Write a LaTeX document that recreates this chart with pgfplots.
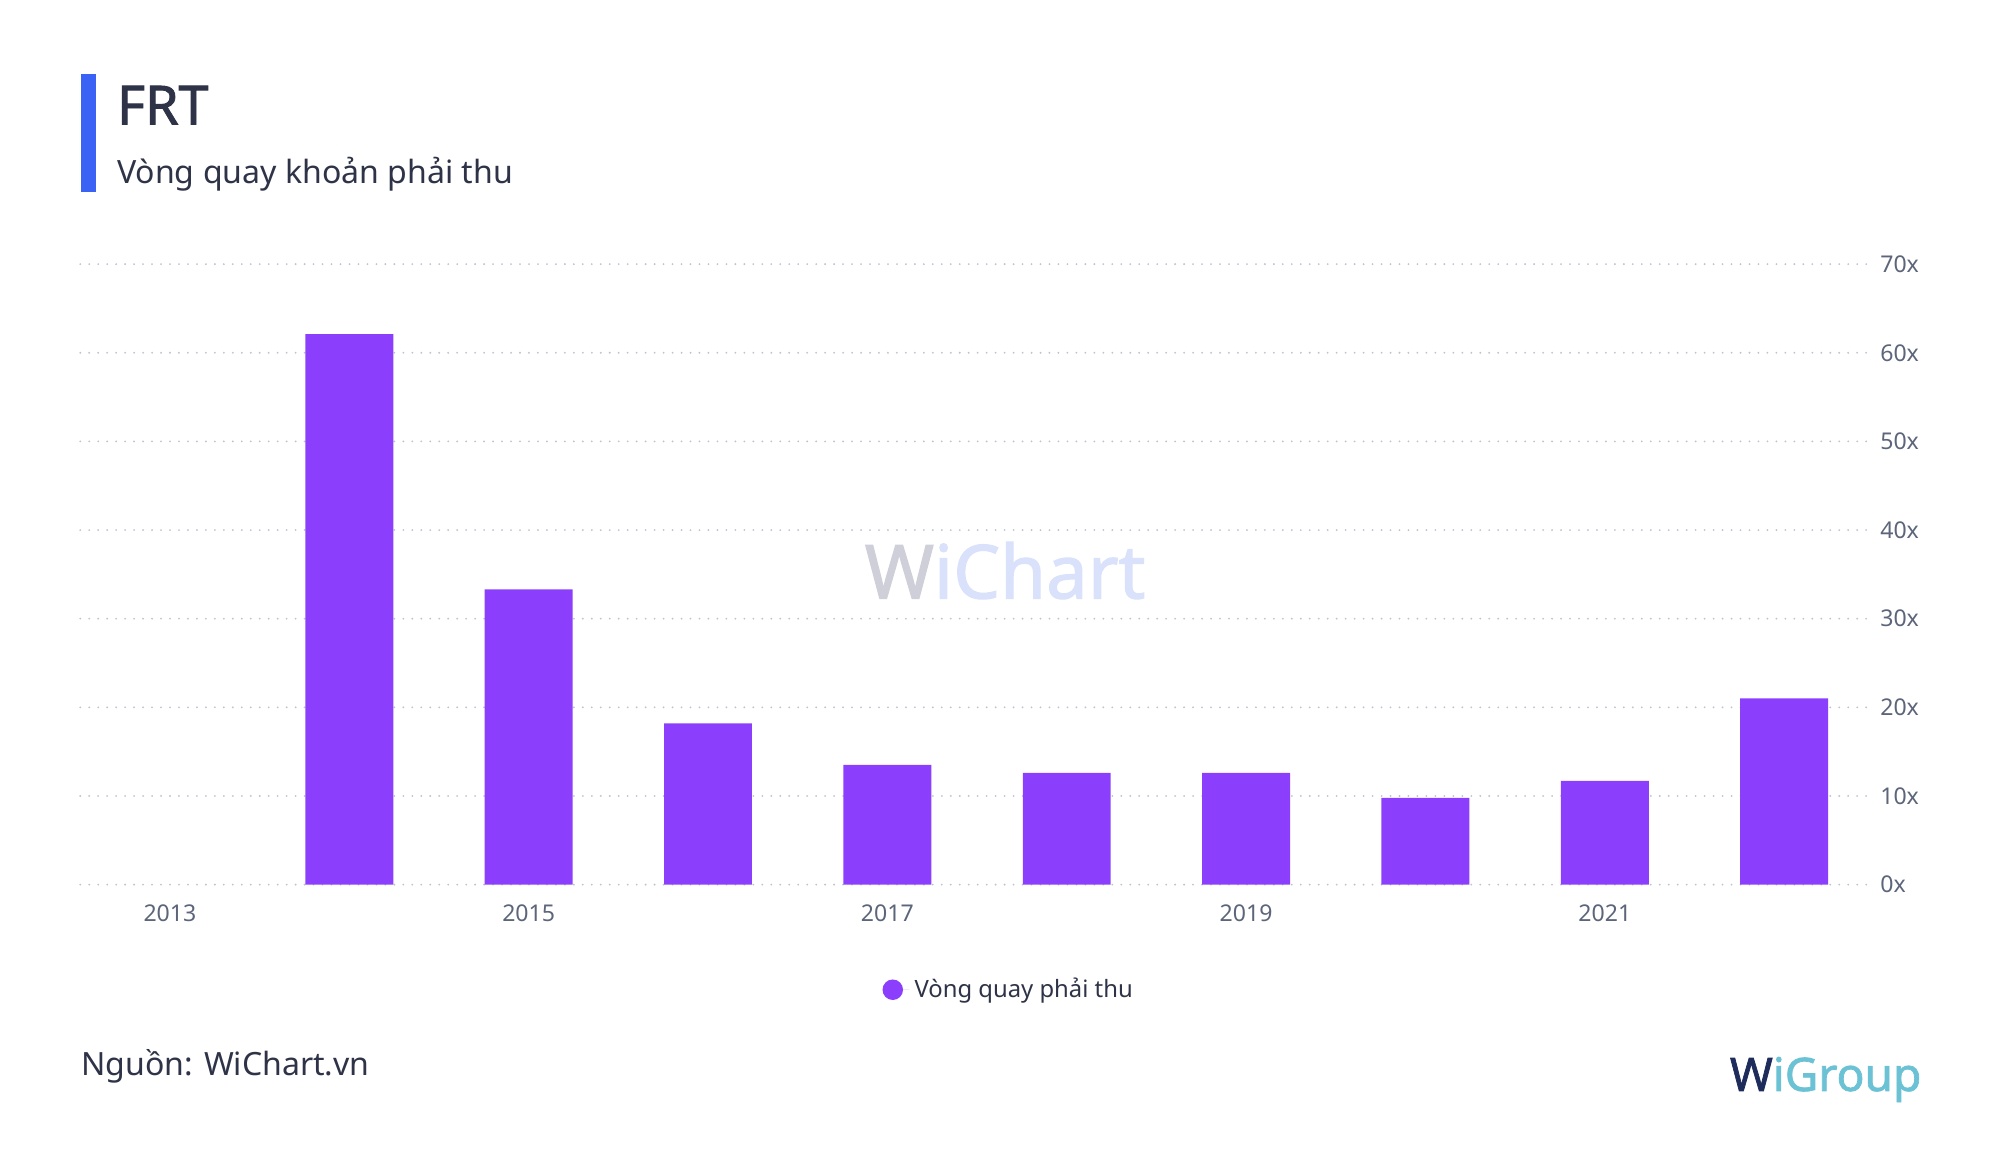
\documentclass[border=0pt]{standalone}
\usepackage{pgfplots}
\pgfplotsset{compat=1.18}
\usepackage{fontspec}
\setmainfont{Noto Sans}[AutoFakeBold=1.6]

\definecolor{barc}{HTML}{8B3FFC}
\definecolor{bluebar}{HTML}{3A62F5}
\definecolor{textc}{HTML}{2E3347}
\definecolor{tickc}{HTML}{5C6579}
\definecolor{gridc}{HTML}{BFC3CE}
\definecolor{wmgray}{HTML}{CFCFDA}
\definecolor{wmblue}{HTML}{DAE1FB}
\definecolor{navy}{HTML}{1D2C5B}
\definecolor{teal}{HTML}{6CC2D5}

\begin{document}
\begin{tikzpicture}
    % page frame, 2000x1159 proportions
    \path (0pt,0pt) rectangle (780pt,-452.5pt);

    % header
    \fill[bluebar] (31.5pt,-29pt) rectangle (37.5pt,-75pt);
    \node[anchor=base west, inner sep=0pt, text=textc, font=\fontsize{21}{25}\selectfont\bfseries] at (45.5pt,-48.5pt) {FRT};
    \node[anchor=base west, inner sep=0pt, text=textc, font=\fontsize{12.5}{15}\selectfont] at (45.5pt,-71.5pt) {Vòng quay khoản phải thu};

    % watermark
    \node[inner sep=0pt, font=\fontsize{29}{34}\selectfont\bfseries] at (392pt,-222.5pt) {\textcolor{wmgray}{W}\textcolor{wmblue}{iChart}};

    \begin{axis}[
            at={(31.3pt,-345pt)}, anchor=south west,
            scale only axis,
            width=699.5pt,
            height=242pt,
            ybar,
            bar width=34.3pt,
            xmin=-0.5, xmax=9.5,
            ymin=0, ymax=70,
            xtick={0,2,4,6,8},
            xticklabels={2013, 2015, 2017, 2019, 2021},
            ytick={0,10,...,70},
            yticklabel={\pgfmathprintnumber{\tick}x},
            yticklabel pos=right,
            /pgf/number format/assume math mode=true,
            axis line style={draw=none},
            major tick length=0pt,
            ymajorgrids=true,
            grid style={draw=gridc, line width=0.8pt, line cap=round, dash pattern=on 0pt off 3.5pt},
            tick label style={font=\fontsize{9}{11}\selectfont, text=tickc},
            xticklabel style={yshift=-4.5pt},
            yticklabel style={xshift=-1pt},
            legend style={
                    at={(0.5185,-0.1694)},
                    anchor=center,
                    draw=none, fill=none,
                    font=\fontsize{9.3}{11}\selectfont,
                    text=textc,
                },
        ]

        \addplot[
            fill=barc, draw=none,
            legend image code/.code={\fill[barc] (4pt,0pt) circle (4pt); \path (0pt,0pt) -- (10.5pt,0pt);},
        ] coordinates {
                (1, 62.1)
                (2, 33.3)
                (3, 18.2)
                (4, 13.5)
                (5, 12.6)
                (6, 12.6)
                (7, 9.8)
                (8, 11.7)
                (9, 21.0)
            };
        \addlegendentry{Vòng quay phải thu}
    \end{axis}

    % footer
    \node[anchor=base west, inner sep=0pt, text=textc, font=\fontsize{12.5}{15}\selectfont] at (31.5pt,-419.5pt) {Nguồn: WiChart.vn};
    \node[inner sep=0pt, font=\fontsize{18}{22}\selectfont\bfseries] at (712pt,-421pt) {\textcolor{navy}{W}\textcolor{teal}{iGroup}};
\end{tikzpicture}
\end{document}
